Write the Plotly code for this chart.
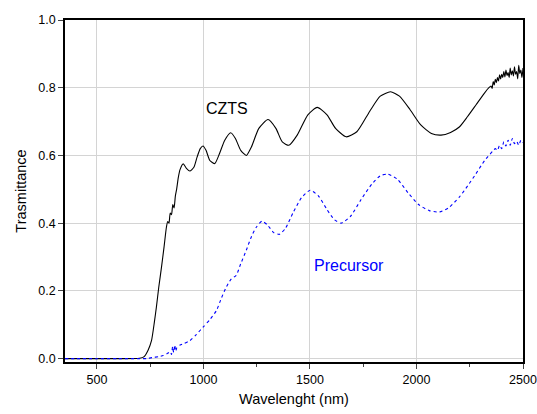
import plotly.graph_objects as go

# CZTS (black, solid)
czts_wl = [350, 400, 500, 600, 700, 720, 740, 756, 770, 779, 790, 803, 815, 826, 832, 838, 844, 850, 856, 862, 868,
           874, 882, 890, 905, 920, 936, 955, 970, 985, 998, 1012, 1030, 1053, 1075, 1100, 1128, 1150, 1175,
           1201, 1225, 1260, 1303, 1340, 1370, 1401, 1440, 1490, 1534, 1580, 1620, 1670, 1720, 1780, 1830,
           1878, 1920, 1970, 2020, 2070, 2115, 2160, 2201, 2240, 2279, 2320, 2340, 2350, 2355, 2360, 2365,
           2370, 2375, 2380, 2385, 2390, 2395, 2400, 2405, 2410, 2415, 2420, 2425, 2430, 2435, 2440, 2445,
           2450, 2455, 2460, 2465, 2470, 2475, 2480, 2485, 2490, 2495, 2500]
czts_t = [0.0, 0.0, 0.0, 0.0, 0.001, 0.005, 0.025, 0.053, 0.11, 0.152, 0.21, 0.27, 0.33, 0.388, 0.405, 0.40, 0.43, 0.425, 0.455, 0.445, 0.48,
          0.50, 0.535, 0.558, 0.575, 0.562, 0.554, 0.565, 0.595, 0.62, 0.628, 0.615, 0.585, 0.576, 0.605, 0.645, 0.667, 0.65, 0.615,
          0.600, 0.625, 0.68, 0.706, 0.68, 0.64, 0.630, 0.66, 0.72, 0.742, 0.72, 0.68, 0.655, 0.67, 0.73, 0.775,
          0.788, 0.775, 0.735, 0.69, 0.665, 0.660, 0.668, 0.684, 0.715, 0.749, 0.785, 0.80, 0.805, 0.798, 0.818, 0.808,
          0.825, 0.815, 0.83, 0.82, 0.838, 0.826, 0.84, 0.83, 0.848, 0.832, 0.852, 0.836, 0.845, 0.83, 0.858, 0.838,
          0.85, 0.835, 0.862, 0.84, 0.848, 0.826, 0.866, 0.842, 0.852, 0.83, 0.858, 0.84, 0.848]

# Precursor (blue, dotted)
prec_wl = [350, 400, 500, 600, 700, 733, 760, 790, 811, 830, 845, 850, 855, 860, 865, 870, 875, 890, 910, 936, 965, 998,
           1030, 1061, 1085, 1107, 1130, 1154, 1175, 1201, 1225, 1248, 1275, 1300, 1330, 1357, 1385, 1420,
           1460, 1501, 1540, 1580, 1615, 1646, 1690, 1740, 1790, 1830, 1865, 1910, 1960, 2010, 2060, 2107,
           2150, 2201, 2240, 2279, 2320, 2357, 2370, 2380, 2390, 2400, 2410, 2420, 2430, 2440, 2450, 2460,
           2470, 2480, 2490, 2500]
prec_t = [0.0, 0.0, 0.0, 0.0, 0.0, 0.0, 0.003, 0.006, 0.009, 0.015, 0.02, 0.012, 0.035, 0.018, 0.04, 0.022, 0.032, 0.04, 0.045, 0.053, 0.07, 0.093,
          0.115, 0.142, 0.18, 0.211, 0.235, 0.246, 0.28, 0.320, 0.36, 0.388, 0.406, 0.395, 0.372, 0.367, 0.385, 0.43,
          0.475, 0.497, 0.48, 0.44, 0.41, 0.400, 0.42, 0.47, 0.515, 0.54, 0.545, 0.53, 0.49, 0.455, 0.437, 0.433,
          0.445, 0.477, 0.51, 0.546, 0.585, 0.612, 0.62, 0.615, 0.63, 0.62, 0.64, 0.628, 0.645, 0.63, 0.65, 0.635,
          0.642, 0.63, 0.645, 0.638]

x_ticks = [500, 1000, 1500, 2000, 2500]
y_ticks = [0.0, 0.2, 0.4, 0.6, 0.8, 1.0]

FONT = "Liberation Sans, Arial, sans-serif"

fig = go.Figure()
fig.add_trace(go.Scatter(x=czts_wl, y=czts_t, mode="lines", name="CZTS",
                         line=dict(color="black", width=1.1, shape="spline", smoothing=0.6)))
fig.add_trace(go.Scatter(x=prec_wl, y=prec_t, mode="lines", name="Precursor",
                         line=dict(color="#0000ff", width=1.1, dash="3px,3px", shape="spline", smoothing=0.6)))

fig.add_annotation(x=1110, y=0.74, text="CZTS", showarrow=False,
                   font=dict(family=FONT, size=16, color="black"))
fig.add_annotation(x=1685, y=0.275, text="Precursor", showarrow=False,
                   font=dict(family=FONT, size=16, color="#0000ff"))

fig.update_layout(
    width=537, height=414,
    margin=dict(l=65, r=14, t=20, b=52),
    paper_bgcolor="white", plot_bgcolor="white",
    showlegend=False,
    font=dict(family=FONT, size=12.5, color="black"),
)
fig.update_xaxes(range=[350, 2500], tickvals=x_ticks, ticks="outside", ticklen=5, tickwidth=1,
                 showgrid=True, gridcolor="#d4d4d4", gridwidth=1,
                 showline=True, linecolor="black", linewidth=1.5, mirror=True,
                 minor=dict(dtick=250, tick0=250, ticks="outside", ticklen=3, showgrid=False),
                 title=dict(text="Wavelenght (nm)", font=dict(size=14.5), standoff=8),
                 zeroline=False, automargin=False)
fig.update_yaxes(range=[-0.01, 1.0], tickvals=y_ticks, tickformat=".1f", ticks="outside", ticklen=5, tickwidth=1,
                 showgrid=True, gridcolor="#d4d4d4", gridwidth=1,
                 showline=True, linecolor="black", linewidth=1.5, mirror=True,
                 title=dict(text="Trasmittance", font=dict(size=14.5), standoff=8),
                 zeroline=False, automargin=False)

fig.write_html("out.html")
